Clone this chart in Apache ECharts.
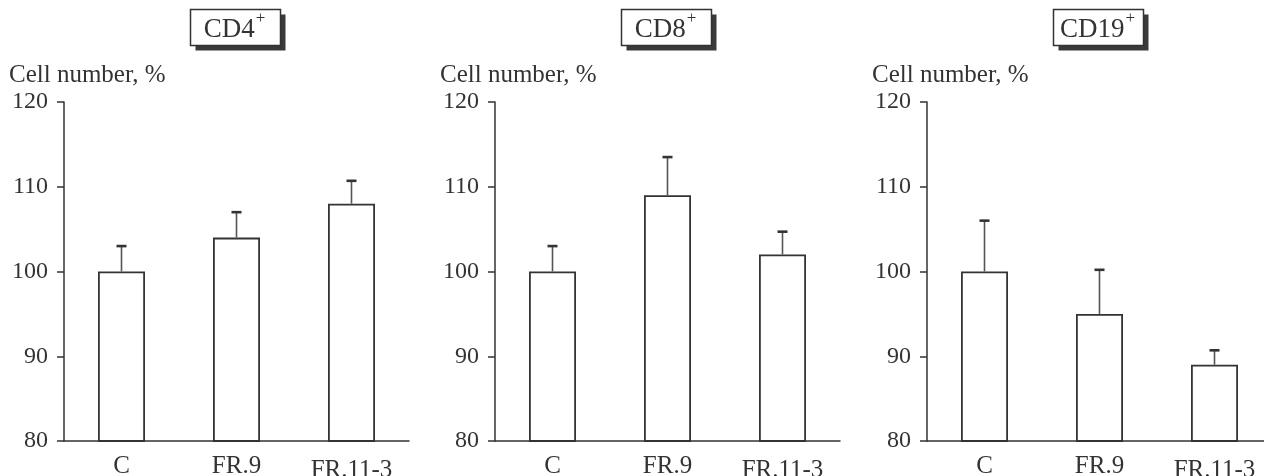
<!DOCTYPE html>
<html>
<head>
<meta charset="utf-8">
<style>
html,body{margin:0;padding:0;background:#fff;overflow:hidden;width:1264px;height:476px;}
#chart{width:1290px;height:476px;}
</style>
<script src="https://cdn.jsdelivr.net/npm/echarts@6/dist/echarts.min.js"></script>
</head>
<body>
<div id="chart"></div>
<script>
// ---- data ----
const categories = ['C', 'FR.9', 'FR.11-3'];
const panelTitles = ['CD4', 'CD8', 'CD19'];
const titleSup = '+';
const yAxisLabel = 'Cell number, %';
const yTicks = [80, 90, 100, 110, 120];
const cd4Means = [100, 104, 108];
const cd4ErrTop = [103, 107, 110.7];
const cd8Means = [100, 109, 102];
const cd8ErrTop = [103, 113.5, 104.7];
const cd19Means = [100, 95, 89];
const cd19ErrTop = [106, 100.2, 90.7];

const means = [cd4Means, cd8Means, cd19Means];
const errs = [cd4ErrTop, cd8ErrTop, cd19ErrTop];

// ---- layout ----
const axisX = [64, 495, 927];
const gridW = 345;
const gridTop = 102;
const gridBottom = 35;
const FONT = '"Liberation Serif", "Times New Roman", serif';
const INK = '#333';

const measure = (() => {
  const c = document.createElement('canvas').getContext('2d');
  return (txt, size) => { c.font = size + 'px ' + FONT; return c.measureText(txt).width; };
})();

const grids = [], xAxes = [], yAxes = [], series = [], graphics = [];

axisX.forEach((x0, i) => {
  grids.push({left: x0, width: gridW, top: gridTop, bottom: gridBottom, containLabel: false, outerBoundsMode: 'none'});
  xAxes.push({
    type: 'category', gridIndex: i, data: categories,
    axisLine: {lineStyle: {color: INK, width: 1.5}},
    axisTick: {show: false},
    axisLabel: {
      color: INK, fontFamily: FONT, fontSize: 25, margin: 13, interval: 0,
      formatter: v => v === 'FR.11-3' ? '{low|' + v + '}' : v,
      rich: {low: {fontFamily: FONT, fontSize: 25, color: INK, padding: [4, 0, 0, 0]}}
    }
  });
  yAxes.push({
    type: 'value', gridIndex: i, min: yTicks[0], max: yTicks[yTicks.length - 1], interval: 10,
    axisLine: {show: true, lineStyle: {color: INK, width: 1.5}},
    axisTick: {show: true, length: 7, lineStyle: {color: INK, width: 1.5}},
    splitLine: {show: false},
    axisLabel: {color: INK, fontFamily: FONT, fontSize: 24, margin: 16}
  });
  series.push({
    type: 'bar', xAxisIndex: i, yAxisIndex: i, data: means[i], barWidth: 47,
    itemStyle: {color: '#fff', borderColor: INK, borderWidth: 1.8},
    silent: true
  });
  series.push({
    type: 'custom', xAxisIndex: i, yAxisIndex: i, z: 5, silent: true,
    data: means[i].map((m, k) => [k, m, errs[i][k]]),
    renderItem: (params, api) => {
      const base = api.coord([api.value(0), api.value(1)]);
      const top = api.coord([api.value(0), api.value(2)]);
      return {
        type: 'group',
        children: [
          {type: 'line', shape: {x1: base[0], y1: base[1], x2: top[0], y2: top[1]},
           style: {stroke: '#555', lineWidth: 1.6}},
          {type: 'line', shape: {x1: top[0] - 5, y1: top[1], x2: top[0] + 5, y2: top[1]},
           style: {stroke: INK, lineWidth: 2.6}}
        ]
      };
    }
  });
  // title boxes
  const bx = x0 + 126.5, by = 9.5, bw = 90, bh = 36;
  graphics.push({type: 'rect', shape: {x: bx + 5, y: by + 5, width: bw, height: bh}, style: {fill: '#3a3a3a'}, z: 10});
  graphics.push({type: 'rect', shape: {x: bx, y: by, width: bw, height: bh}, style: {fill: '#fff', stroke: INK, lineWidth: 1.5}, z: 11});
  const mainSize = 27, supSize = 17;
  const w1 = measure(panelTitles[i], mainSize);
  const w2 = measure(titleSup, supSize);
  const startX = bx + bw / 2 - (w1 + w2 + 1) / 2 - 1;
  graphics.push({type: 'text', x: startX, y: 30, z: 12,
    style: {text: panelTitles[i], font: mainSize + 'px ' + FONT, fill: INK, verticalAlign: 'middle', textVerticalAlign: 'middle'}});
  graphics.push({type: 'text', x: startX + w1 + 1, y: 19, z: 12,
    style: {text: titleSup, font: supSize + 'px ' + FONT, fill: INK, verticalAlign: 'middle', textVerticalAlign: 'middle'}});
  // axis name
  graphics.push({type: 'text', x: x0 - 55, y: 75, z: 12,
    style: {text: yAxisLabel, font: '25px ' + FONT, fill: INK, verticalAlign: 'middle', textVerticalAlign: 'middle'}});
});

const chart = echarts.init(document.getElementById('chart'), null, {renderer: 'canvas'});
chart.setOption({
  animation: false,
  backgroundColor: '#fff',
  grid: grids, xAxis: xAxes, yAxis: yAxes, series: series,
  graphic: graphics
});
</script>
</body>
</html>
